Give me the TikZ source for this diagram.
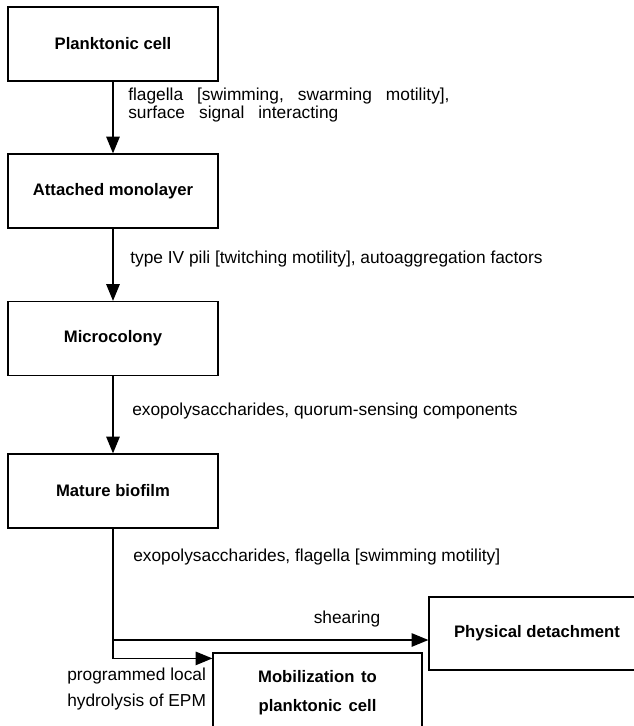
\documentclass[tikz,border=0pt]{standalone}
\usepackage{fontspec}
\usetikzlibrary{arrows.meta}
\setmainfont{Liberation Sans}
\newcommand\widewords{\spaceskip 10.5pt\relax}
\begin{document}
\begin{tikzpicture}[x=0.75pt,y=-0.75pt,
  box/.style={draw,line width=0.9pt,minimum width=157.5pt,minimum height=55.5pt,inner sep=0pt,
    font={\fontsize{12.5pt}{21.75pt}\selectfont\bfseries},align=center},
  lab/.style={font={\fontsize{13pt}{16pt}\selectfont},inner sep=0pt,anchor=mid west},
  wide/.style={execute at begin node=\widewords},
  arr/.style={line width=1.1pt,-{Triangle[width=10pt,length=12.5pt]}},
  ln/.style={line width=1.1pt}]
\useasboundingbox (0,0) rectangle (634,726);
\node[box] (b1) at (113,44) {Planktonic cell};
\node[box] (b2) at (113,191) {Attached monolayer};
\node[box] (b3) at (113,338.5) {Microcolony};
\node[box] (b4) at (113,491) {Mature biofilm};
\node[box,minimum width=162pt,minimum height=54.75pt] (phys) at (537,633.5) {Physical detachment};
\node[box,minimum width=156.75pt,minimum height=59.25pt] (mob) at (317.5,692.5)
  {Mobilization\hspace{5pt}to\\planktonic\hspace{5pt}cell};
\draw[arr] (b1) -- (b2);
\draw[arr] (b2) -- (b3);
\draw[arr] (b3) -- (b4);
\coordinate (split) at (113,640);
\draw[arr] (b4.south) |- ([yshift=-4.5pt]mob.north west);
\draw[arr] (split) -- (split -| phys.west);
\node[lab,wide] (l1a) at (128,97) {flagella [swimming, swarming motility],};
\node[lab,wide] (l1b) at (128,115) {surface signal interacting};
\node[lab] (l2) at (130,260) {type IV pili [twitching motility], autoaggregation factors};
\node[lab] (l3) at (132,412) {exopolysaccharides, quorum-sensing components};
\node[lab] (l4) at (133,558) {exopolysaccharides, flagella [swimming motility]};
\node[lab,anchor=mid] (l5) at (347,620) {shearing};
\node[lab] (l6a) at (67,677) {programmed local};
\node[lab] (l6b) at (67,703) {hydrolysis of EPM};
\end{tikzpicture}
\end{document}
